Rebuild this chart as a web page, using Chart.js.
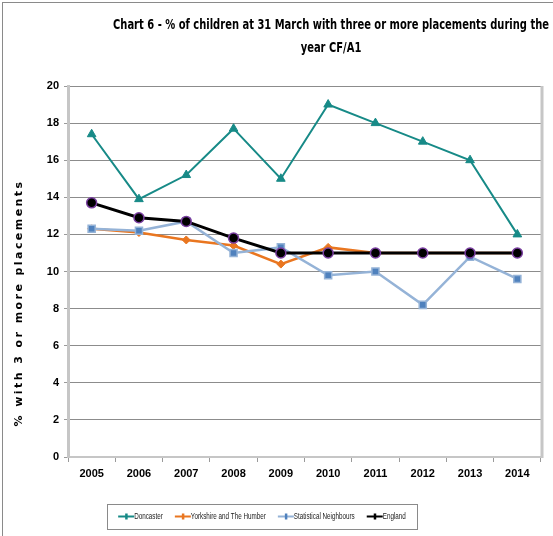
<!DOCTYPE html>
<html>
<head>
<meta charset="utf-8">
<script src="https://cdn.jsdelivr.net/npm/chart.js@4"></script>
<style>
  html, body { margin: 0; padding: 0; background: #fff; }
  #wrap { position: relative; width: 553px; height: 536px; }
  #frame { position: absolute; left: 2px; top: 2px; right: 0; bottom: 0; border-left: 1px solid #8a8a8a; border-top: 1px solid #8a8a8a; pointer-events: none; }
</style>
</head>
<body>
<div id="wrap">
  <canvas id="c" width="553" height="536"></canvas>
  <div id="frame"></div>
</div>
<script>
// Percentage of children at 31 March with three or more placements during the year
const years = ['2005', '2006', '2007', '2008', '2009', '2010', '2011', '2012', '2013', '2014'];
const doncaster = [17.4, 13.9, 15.2, 17.7, 15.0, 19.0, 18.0, 17.0, 16.0, 12.0];
const yorkshire = [12.3, 12.1, 11.7, 11.4, 10.4, 11.3, 11.0, 11.0, 11.0, 11.0];
const statNeighbours = [12.3, 12.2, 12.7, 11.0, 11.3, 9.8, 10.0, 8.2, 10.8, 9.6];
const england = [13.7, 12.9, 12.7, 11.8, 11.0, 11.0, 11.0, 11.0, 11.0, 11.0];
const yTicks = [0, 2, 4, 6, 8, 10, 12, 14, 16, 18, 20];

const titleLines = ['Chart 6 - % of children at 31 March with three or more placements during the', 'year CF/A1'];
const yTitle = '% with 3 or more placements';

const COND = '"DejaVu Sans Condensed", "DejaVu Sans", sans-serif';
const SANS = '"Liberation Sans", Arial, sans-serif';

const datasets = [
  { label: 'Doncaster', data: doncaster, borderColor: '#178a87', backgroundColor: '#178a87',
    borderWidth: 2, pointStyle: 'triangle', pointRadius: 5, pointBorderWidth: 1,
    pointBackgroundColor: '#178a87', pointBorderColor: '#178a87', order: 1 },
  { label: 'Yorkshire and The Humber', data: yorkshire, borderColor: '#e97620', backgroundColor: '#e97620',
    borderWidth: 2.5, pointStyle: 'rectRot', pointRadius: 4, pointBorderWidth: 1,
    pointBackgroundColor: '#e97620', pointBorderColor: '#e97620', order: 3 },
  { label: 'Statistical Neighbours', data: statNeighbours, borderColor: '#95b3d7', backgroundColor: '#4f81bd',
    borderWidth: 2.5, pointStyle: 'rect', pointRadius: 5, pointBorderWidth: 1.5,
    pointBackgroundColor: '#4f81bd', pointBorderColor: '#95b3d7', order: 2 },
  { label: 'England', data: england, borderColor: '#000000', backgroundColor: '#000000',
    borderWidth: 3, pointStyle: 'circle', pointRadius: 5, pointBorderWidth: 1.5,
    pointBackgroundColor: '#000000', pointBorderColor: '#7a3fa0', order: 0 }
];

// Draws a centred text line squeezed horizontally to the given width
function fitText(ctx, text, cx, cy, width) {
  const w = ctx.measureText(text).width;
  const k = width / w;
  ctx.save();
  ctx.translate(cx, cy);
  ctx.scale(k, 1);
  ctx.fillText(text, 0, 0);
  ctx.restore();
  return k;
}

// Title, rotated axis title, plot frame and boxed legend
const decorations = {
  id: 'decorations',
  afterDraw(chart) {
    const ctx = chart.ctx;
    const a = chart.chartArea;
    ctx.save();
    // right-hand frame of the plot area
    ctx.strokeStyle = '#c6c6c6';
    ctx.lineWidth = 3;
    ctx.beginPath();
    ctx.moveTo(a.right + 1, a.top);
    ctx.lineTo(a.right + 1, a.bottom + 1);
    ctx.stroke();

    // title, two lines in a condensed bold face
    ctx.fillStyle = '#000';
    ctx.font = 'bold 14px ' + COND;
    ctx.textAlign = 'center';
    ctx.textBaseline = 'middle';
    const k = fitText(ctx, titleLines[0], 331, 25, 436);
    const w2 = ctx.measureText(titleLines[1]).width * k;
    fitText(ctx, titleLines[1], 331, 48, w2);

    // y axis title, widely spaced
    ctx.save();
    ctx.translate(19, 303);
    ctx.rotate(-Math.PI / 2);
    ctx.font = 'bold 11px "DejaVu Sans", sans-serif';
    ctx.letterSpacing = '0px';
    const raw = ctx.measureText(yTitle).width;
    ctx.letterSpacing = ((247 - raw) / yTitle.length).toFixed(2) + 'px';
    ctx.textAlign = 'center';
    ctx.fillText(yTitle, 0, 0);
    ctx.restore();

    // legend
    ctx.font = '9px ' + SANS;
    ctx.textAlign = 'left';
    ctx.textBaseline = 'middle';
    const ks = 75 / ctx.measureText('Yorkshire and The Humber').width;
    const lineLen = 16, gap = 12;
    const widths = chart.data.datasets.map(d => lineLen + ctx.measureText(d.label).width * ks);
    const total = widths.reduce((s, w) => s + w, 0) + gap * (widths.length - 1);
    const boxL = 107, boxR = 417, boxT = 504, boxB = 529;
    ctx.strokeStyle = '#8a8a8a';
    ctx.lineWidth = 1;
    ctx.strokeRect(boxL + 0.5, boxT + 0.5, boxR - boxL, boxB - boxT);
    let x = (boxL + boxR) / 2 - total / 2;
    const y = (boxT + boxB) / 2;
    chart.data.datasets.forEach((d, i) => {
      ctx.strokeStyle = d.borderColor;
      ctx.lineWidth = 2;
      ctx.beginPath();
      ctx.moveTo(x, y);
      ctx.lineTo(x + lineLen, y);
      ctx.stroke();
      ctx.fillStyle = d.pointBackgroundColor;
      ctx.fillRect(x + lineLen / 2 - 1, y - 3, 2.5, 6);
      ctx.fillStyle = '#222';
      ctx.save();
      ctx.translate(x + lineLen, y + 0.5);
      ctx.scale(ks, 1);
      ctx.fillText(d.label, 0, 0);
      ctx.restore();
      x += widths[i] + gap;
    });
    ctx.restore();
  }
};

new Chart(document.getElementById('c'), {
  type: 'line',
  data: { labels: years, datasets },
  options: {
    responsive: false,
    animation: false,
    layout: { padding: { left: 28, right: 12, top: 86, bottom: 49 } },
    plugins: { legend: { display: false }, title: { display: false }, tooltip: { enabled: false } },
    elements: { line: { tension: 0 } },
    scales: {
      x: {
        offset: true,
        afterFit(scale) { scale.height = 30; },
        grid: { offset: true, drawOnChartArea: false, drawTicks: true, tickLength: 5, tickColor: '#9a9a9a' },
        border: { display: true, color: '#c6c6c6', width: 2 },
        ticks: { color: '#000', font: { family: SANS, size: 11, weight: 'bold' }, padding: 5, maxRotation: 0 }
      },
      y: {
        min: 0, max: 20,
        afterFit(scale) { scale.width = 40; },
        afterBuildTicks(scale) { scale.ticks = yTicks.map(v => ({ value: v })); },
        grid: { color: '#8c8c8c', lineWidth: 1, tickLength: 4, tickColor: '#9a9a9a', tickBorderDash: [0] },
        border: { display: true, color: '#c6c6c6', width: 3 },
        ticks: { color: '#000', font: { family: SANS, size: 11, weight: 'bold' }, padding: 5 }
      }
    }
  },
  plugins: [decorations]
});
</script>
</body>
</html>
